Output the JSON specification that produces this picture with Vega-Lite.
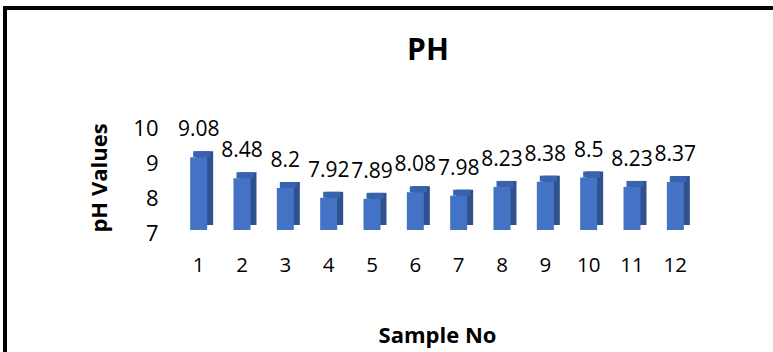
{
  "$schema": "https://vega.github.io/schema/vega-lite/v6.json",
  "width": 768,
  "height": 344,
  "autosize": {"type": "none"},
  "padding": {"left": 5, "top": 8, "right": 0, "bottom": 0},
  "background": "#ffffff",
  "config": {
    "font": "Open Sans",
    "view": {"stroke": "#000000", "strokeWidth": 4, "strokeDash": [768, 1112, 344]}
  },
  "title": {
    "text": "PH",
    "font": "Open Sans",
    "fontSize": 30,
    "fontWeight": "bold",
    "color": "#000000",
    "anchor": "middle",
    "baseline": "alphabetic",
    "offset": 0,
    "dy": 82,
    "dx": 39
  },
  "data": {
    "values": [
      {"sample": 1, "ph": 9.08},
      {"sample": 2, "ph": 8.48},
      {"sample": 3, "ph": 8.2},
      {"sample": 4, "ph": 7.92},
      {"sample": 5, "ph": 7.89},
      {"sample": 6, "ph": 8.08},
      {"sample": 7, "ph": 7.98},
      {"sample": 8, "ph": 8.23},
      {"sample": 9, "ph": 8.38},
      {"sample": 10, "ph": 8.5},
      {"sample": 11, "ph": 8.23},
      {"sample": 12, "ph": 8.37}
    ]
  },
  "encoding": {
    "x": {
      "field": "sample",
      "type": "ordinal",
      "sort": null,
      "scale": {"range": [172, 692], "paddingInner": 0, "paddingOuter": 0},
      "axis": {
        "orient": "bottom",
        "offset": -96.5,
        "domain": false,
        "ticks": false,
        "tickSize": 0,
        "grid": false,
        "labelPadding": 0,
        "labelAngle": 0,
        "labelFontSize": 20.5,
        "labelColor": "#000000",
        "title": "Sample No",
        "titleFontSize": 22,
        "titleFontWeight": "bold",
        "titleColor": "#000000",
        "titlePadding": 49
      }
    },
    "y": {
      "field": "ph",
      "type": "quantitative",
      "scale": {"domain": [7, 10], "range": [222, 117], "nice": false, "zero": false},
      "axis": {
        "orient": "left",
        "offset": -153,
        "domain": false,
        "ticks": false,
        "tickSize": 0,
        "grid": false,
        "values": [7, 8, 9, 10],
        "labelPadding": 0,
        "labelOffset": 3,
        "labelFontSize": 22,
        "labelColor": "#000000",
        "title": "pH Values",
        "titleFontSize": 22,
        "titleFontWeight": "bold",
        "titleColor": "#000000",
        "titlePadding": 21
      }
    }
  },
  "layer": [
    {
      "mark": {"type": "bar", "size": 17, "color": "#2F528F", "xOffset": 6, "yOffset": -6, "y2Offset": -5},
      "encoding": {"y2": {"datum": 7}}
    },
    {
      "mark": {"type": "bar", "size": 17, "color": "#3A63AE", "xOffset": 3, "yOffset": -6, "y2Offset": 0},
      "encoding": {"y2": {"field": "ph"}}
    },
    {
      "mark": {"type": "bar", "size": 17, "color": "#4472C4"},
      "encoding": {"y2": {"datum": 7}}
    },
    {
      "mark": {"type": "text", "fontSize": 21, "baseline": "middle", "dy": -27, "color": "#000000"},
      "encoding": {"text": {"field": "ph", "type": "nominal"}}
    }
  ]
}
